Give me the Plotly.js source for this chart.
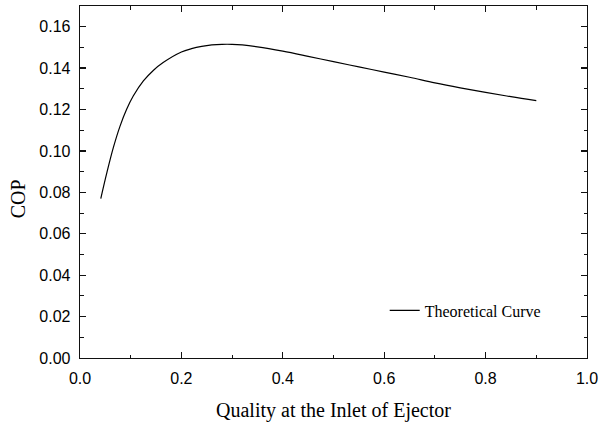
<!DOCTYPE html>
<html>
<head>
<meta charset="utf-8">
<script src="https://cdn.plot.ly/plotly-3.0.1.min.js"></script>
<style>html,body{margin:0;padding:0;background:#fff;}#chart{width:600px;height:423px;}</style>
</head>
<body>
<div id="chart"></div>
<script>
var quality = [0.041, 0.053, 0.066, 0.079, 0.092, 0.105, 0.125, 0.145, 0.164, 0.20, 0.22, 0.24, 0.26, 0.28, 0.30, 0.32, 0.35, 0.40, 0.45, 0.50, 0.55, 0.60, 0.65, 0.70, 0.75, 0.80, 0.85, 0.90];
var cop = [0.0770, 0.0895, 0.1018, 0.1120, 0.1201, 0.1265, 0.1338, 0.1390, 0.1427, 0.1478, 0.1494, 0.1505, 0.1512, 0.1515, 0.1515, 0.1512, 0.1503, 0.1482, 0.1457, 0.1431, 0.1406, 0.1381, 0.1356, 0.1329, 0.1305, 0.1283, 0.1262, 0.1243];
var seriesName = "Theoretical Curve";
var xTitle = "Quality at the Inlet of Ejector";
var yTitle = "COP";

var serif = "'Liberation Serif', 'Times New Roman', serif";
var sans = "'Liberation Sans', Arial, sans-serif";

var axisCommon = {
  showgrid: false, zeroline: false, showline: true, linecolor: '#111', linewidth: 1.3,
  mirror: 'ticks', ticks: 'inside', ticklen: 6, tickwidth: 1.3, tickcolor: '#111',
  tickfont: {family: sans, size: 16, color: '#000'}
};

var trace = {
  x: quality, y: cop, type: 'scatter', mode: 'lines', name: seriesName,
  line: {color: '#000', width: 1.2, shape: 'spline', smoothing: 1}
};

var layout = {
  width: 600, height: 423,
  margin: {l: 80, r: 13, t: 6, b: 65},
  paper_bgcolor: '#fff', plot_bgcolor: '#fff',
  showlegend: true,
  legend: {x: 0.601, y: 0.135, xanchor: 'left', yanchor: 'middle', bgcolor: 'rgba(0,0,0,0)',
           font: {family: serif, size: 16, color: '#000'}},
  xaxis: Object.assign({}, axisCommon, {
    range: [0, 1], dtick: 0.2, tickformat: '.1f', ticklabelstandoff: 5,
    minor: {dtick: 0.1, ticks: 'inside', ticklen: 3.5, tickcolor: '#111', tickwidth: 1.1},
    title: {text: xTitle, font: {family: serif, size: 20, color: '#000'}, standoff: 17}
  }),
  yaxis: Object.assign({}, axisCommon, {
    range: [0, 0.17], dtick: 0.02, tickformat: '.2f', ticklabelstandoff: 5,
    minor: {dtick: 0.01, ticks: 'inside', ticklen: 3.5, tickcolor: '#111', tickwidth: 1.1}
  }),
  annotations: [{
    text: yTitle, xref: 'paper', yref: 'paper', x: -0.123, y: 0.4525, xanchor: 'center', yanchor: 'middle',
    textangle: -90, showarrow: false, font: {family: serif, size: 20, color: '#000'}
  }]
};

Plotly.newPlot('chart', [trace], layout, {staticPlot: true, displayModeBar: false});
</script>
</body>
</html>
